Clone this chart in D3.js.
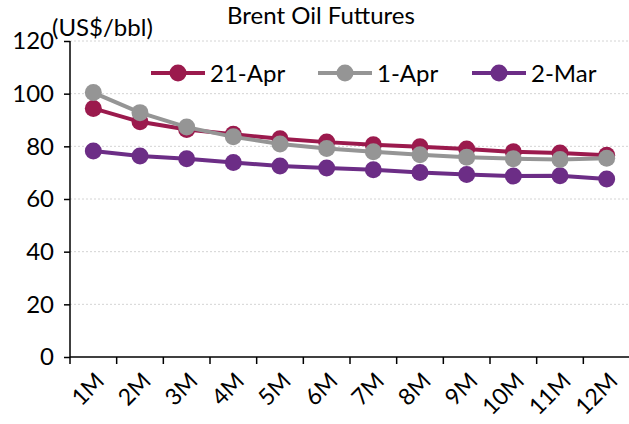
<!DOCTYPE html>
<html>
<head>
<meta charset="utf-8">
<script src="https://cdn.jsdelivr.net/npm/d3@7"></script>
<style>
  body { margin: 0; background: #fff; }
  svg { display: block; font-family: Lato, "Open Sans", sans-serif; }
</style>
</head>
<body>
<svg id="chart" width="629" height="424"></svg>
<script>
var months = ["1M", "2M", "3M", "4M", "5M", "6M", "7M", "8M", "9M", "10M", "11M", "12M"];
var apr21 = [94.4, 89.3, 86.4, 84.6, 82.9, 81.6, 80.6, 79.8, 79.0, 77.9, 77.5, 76.6];
var apr1 = [100.4, 92.8, 87.3, 83.6, 80.9, 79.2, 77.9, 76.8, 75.9, 75.3, 75.0, 75.5];
var mar2 = [78.2, 76.3, 75.3, 73.9, 72.5, 71.8, 71.1, 70.1, 69.3, 68.7, 68.8, 67.6];
var yTicks = [0, 20, 40, 60, 80, 100, 120];

var series = [
  { name: "21-Apr", values: apr21, color: "#9b1a4d" },
  { name: "1-Apr", values: apr1, color: "#959595" },
  { name: "2-Mar", values: mar2, color: "#6c2d86" }
];

(function() {
  var svg = d3.select("#chart");
  var mLeft = 70, mRight = 630, mTop = 41, mBottom = 357;

  var x = d3.scaleBand().domain(months).range([mLeft, mRight]);
  var y = d3.scaleLinear().domain([0, 120]).range([mBottom, mTop]);

  // Dotted gridlines
  svg.append("g")
    .selectAll("line")
    .data(yTicks.filter(function(d) { return d > 0; }))
    .enter()
    .append("line")
    .attr("x1", mLeft)
    .attr("x2", 629)
    .attr("y1", function(d) { return y(d); })
    .attr("y2", function(d) { return y(d); })
    .attr("stroke", "#d4d4d4")
    .attr("stroke-dasharray", "2,2");

  // Y axis
  var yAxis = svg.append("g")
    .attr("transform", "translate(" + mLeft + ",0)")
    .call(d3.axisLeft(y).tickValues(yTicks).tickSize(6).tickPadding(10));
  yAxis.select(".domain").attr("stroke", "#000").attr("stroke-width", 1.5)
    .attr("d", "M0," + mTop + "V" + mBottom);
  yAxis.selectAll(".tick line").attr("stroke", "#000").attr("stroke-width", 1.5);
  yAxis.selectAll(".tick text")
    .attr("font-size", 24)
    .attr("fill", "#000")
    .attr("font-family", "Lato, sans-serif");

  // X axis, ticks sit on band boundaries
  var xAxis = svg.append("g")
    .attr("transform", "translate(0," + mBottom + ")")
    .call(d3.axisBottom(x).tickSize(7).tickSizeOuter(0).tickFormat(""));
  xAxis.select(".domain").attr("stroke", "#000").attr("stroke-width", 1.5)
    .attr("d", "M" + mLeft + ",0H629");
  xAxis.selectAll(".tick").attr("transform", function(d) {
    return "translate(" + x(d) + ",0)";
  });
  xAxis.selectAll(".tick line").attr("stroke", "#000").attr("stroke-width", 1.5);

  svg.append("g")
    .selectAll("text")
    .data(months)
    .enter()
    .append("text")
    .attr("transform", function(d) {
      return "translate(" + (x(d) + x.bandwidth() / 2 + 1) + "," + (mBottom + 14) + ") rotate(-45)";
    })
    .attr("text-anchor", "end")
    .attr("dy", "0.7em")
    .attr("font-size", 23)
    .attr("fill", "#000")
    .text(function(d) { return d; });

  // Lines and markers
  var line = d3.line()
    .x(function(d, i) { return x(months[i]) + x.bandwidth() / 2; })
    .y(function(d) { return y(d); });

  var drawOrder = [series[2], series[0], series[1]];
  drawOrder.forEach(function(s) {
    var g = svg.append("g");
    g.append("path")
      .datum(s.values)
      .attr("d", line)
      .attr("fill", "none")
      .attr("stroke", s.color)
      .attr("stroke-width", 4);
    g.selectAll("circle")
      .data(s.values)
      .enter()
      .append("circle")
      .attr("cx", function(d, i) { return x(months[i]) + x.bandwidth() / 2; })
      .attr("cy", function(d) { return y(d); })
      .attr("r", 8.5)
      .attr("fill", s.color);
  });

  // Title and unit
  svg.append("text")
    .attr("x", 321)
    .attr("y", 24)
    .attr("text-anchor", "middle")
    .attr("font-size", 24)
    .attr("fill", "#000")
    .text("Brent Oil Futtures");

  svg.append("text")
    .attr("x", 52)
    .attr("y", 36)
    .attr("font-size", 24)
    .attr("fill", "#000")
    .text("(US$/bbl)");

  // Legend
  var legendX = [151, 318, 472];
  var legend = svg.append("g")
    .selectAll("g")
    .data(series)
    .enter()
    .append("g")
    .attr("transform", function(d, i) { return "translate(" + legendX[i] + ",73)"; });
  legend.append("line")
    .attr("x1", 0).attr("x2", 54)
    .attr("stroke", function(d) { return d.color; })
    .attr("stroke-width", 4);
  legend.append("circle")
    .attr("cx", 27)
    .attr("r", 8.5)
    .attr("fill", function(d) { return d.color; });
  legend.append("text")
    .attr("x", 59)
    .attr("dy", "0.36em")
    .attr("font-size", 24)
    .attr("fill", "#000")
    .text(function(d) { return d.name; });
})();
</script>
</body>
</html>
